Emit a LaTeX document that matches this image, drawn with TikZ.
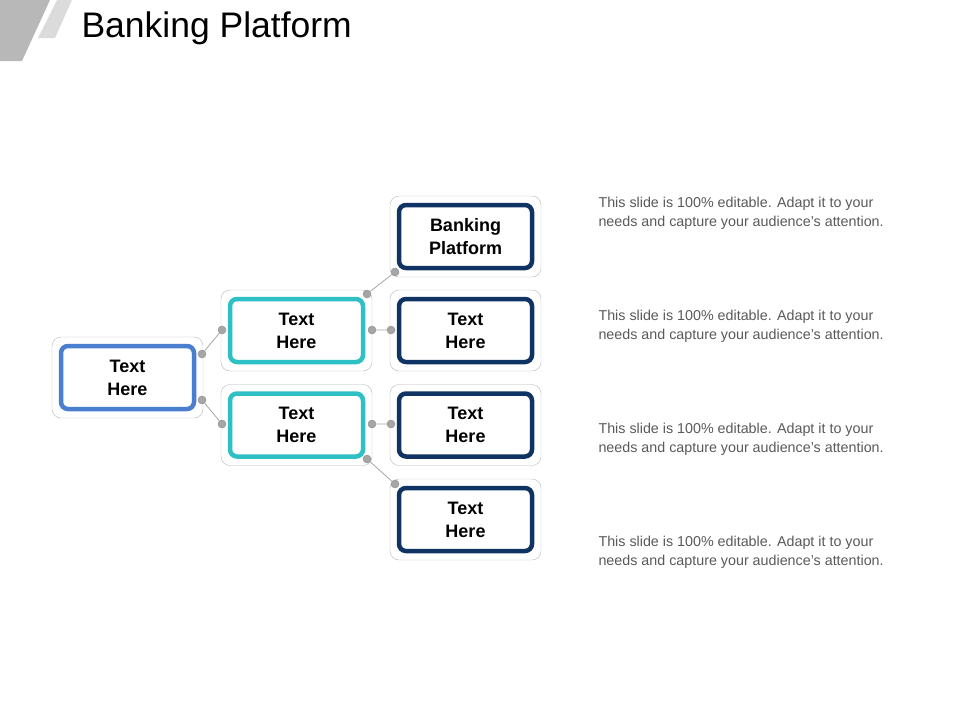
\documentclass[tikz,border=0pt]{standalone}
\usepackage{fontspec}
\setmainfont{Liberation Sans}
\definecolor{rootblue}{HTML}{4A7FD0}
\definecolor{midteal}{HTML}{2EC0C4}
\definecolor{leafnavy}{HTML}{0F3464}
\definecolor{dotgrey}{HTML}{A6A6A6}
\tikzset{
  frame/.style={draw=black!28,fill=white,rounded corners=9pt,minimum width=151pt,minimum height=81pt},
  box/.style={draw=#1,line width=4.5pt,fill=white,rounded corners=7pt,minimum width=133pt,minimum height=63pt,
    align=center,font=\fontsize{18}{23}\selectfont\bfseries,text=black},
  dot/.style={circle,draw=black!45,fill=dotgrey,inner sep=0pt,minimum size=8pt},
  link/.style={draw=black!35,line width=0.8pt},
  note/.style={anchor=north west,align=left,text=black!65,font=\fontsize{14.3}{19}\selectfont}
}
\begin{document}
\begin{tikzpicture}[x=1pt,y=-1pt]
\useasboundingbox (0,0) rectangle (960,720);
% corner marks
\fill[black!28] (0,0)--(50,0)--(22,61)--(0,61)--cycle;
\fill[black!14] (57,0)--(72,0)--(55,38)--(38,38)--cycle;
\node[anchor=west,font=\fontsize{35.5}{42}\selectfont] (title) at (78,28) {Banking Platform};

% frames
\node[frame] (fRoot) at (127.5,377.5) {};
\node[frame] (fMidA) at (296.5,330.5) {};
\node[frame] (fMidB) at (296.5,425) {};
\foreach \y/\n in {236.5/1,330.5/2,425/3,519.5/4}
  \node[frame] (fLeaf\n) at (465.5,\y) {};

% boxes
\node[box=rootblue] (root) at (fRoot) {Text\\Here};
\node[box=midteal] (midA) at (fMidA) {Text\\Here};
\node[box=midteal] (midB) at (fMidB) {Text\\Here};
\node[box=leafnavy] (leaf1) at (fLeaf1) {Banking\\Platform};
\node[box=leafnavy] (leaf2) at (fLeaf2) {Text\\Here};
\node[box=leafnavy] (leaf3) at (fLeaf3) {Text\\Here};
\node[box=leafnavy] (leaf4) at (fLeaf4) {Text\\Here};

% connector dots
\node[dot] (r1) at (202,354) {};
\node[dot] (r2) at (202,400) {};
\node[dot] (a1) at (222,330) {};
\node[dot] (b1) at (222,424) {};
\node[dot] (a2) at (367,294) {};
\node[dot] (a3) at (372,330) {};
\node[dot] (b2) at (372,424) {};
\node[dot] (b3) at (367,459) {};
\node[dot] (l1) at (395,272) {};
\node[dot] (l2) at (391,330) {};
\node[dot] (l3) at (391,424) {};
\node[dot] (l4) at (395,484) {};
\draw[link] (r1)--(a1) (r2)--(b1) (a2)--(l1) (a3)--(l2) (b2)--(l3) (b3)--(l4);

% notes
\foreach \y/\n in {194/1,307/2,420/3,533/4}
  \node[note] (note\n) at (595,\y) {This slide is 100\% editable. Adapt it to your\\needs and capture your audience's attention.};
\end{tikzpicture}
\end{document}
